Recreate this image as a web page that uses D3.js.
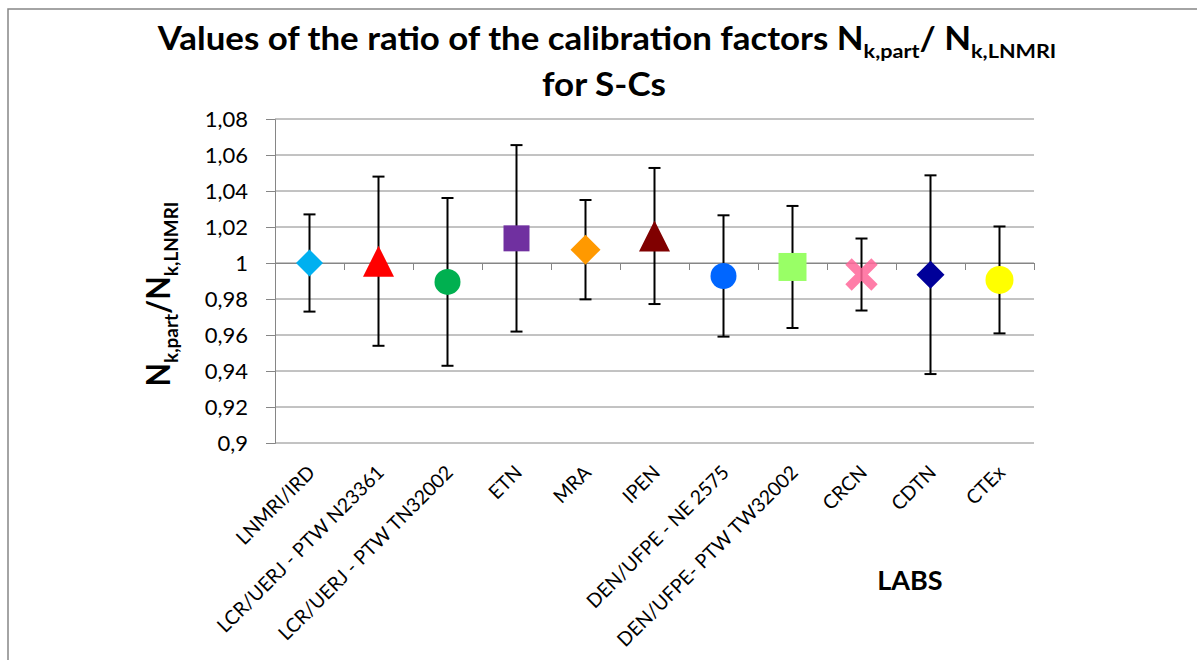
<!DOCTYPE html>
<html>
<head>
<meta charset="utf-8">
<script src="https://cdn.jsdelivr.net/npm/d3@7"></script>
<style>
  html, body { margin: 0; padding: 0; background: #fff; }
  svg { display: block; font-family: Lato, "Open Sans", sans-serif; }
</style>
</head>
<body>
<div id="app"></div>
<script>
// data
const labs = ["LNMRI/IRD", "LCR/UERJ - PTW N23361", "LCR/UERJ - PTW TN32002", "ETN", "MRA", "IPEN",
              "DEN/UFPE - NE 2575", "DEN/UFPE- PTW TW32002", "CRCN", "CDTN", "CTEx"];
const ratios = [1.000, 1.001, 0.9895, 1.0137, 1.0074, 1.015, 0.9928, 0.9978, 0.9936, 0.9935, 0.9906];
const uncert = [0.027, 0.047, 0.0466, 0.0518, 0.0276, 0.0378, 0.0337, 0.0339, 0.020, 0.0552, 0.0297];
const shapes = ["diamond", "triangle", "circle", "square", "diamond", "triangle", "circle", "square", "x", "diamond", "circle"];
const colors = ["#00B0F0", "#FF0000", "#00B050", "#7030A0", "#FF9900", "#800000", "#0066FF", "#99FF66", "#FF6699", "#000099", "#FFFF00"];
const markerSize = [27, 31, 26, 26, 30, 31, 26, 28, 32, 28, 28];
const yTicks = [0.9, 0.92, 0.94, 0.96, 0.98, 1, 1.02, 1.04, 1.06, 1.08];

const width = 1197, height = 660;
const plot = { left: 275, right: 1034, top: 119, bottom: 443 };
const gridColor = "#868686";

const svg = d3.select("#app").append("svg")
    .attr("width", width)
    .attr("height", height);

// outer frame (only top and left edges are visible in the crop)
svg.append("path")
    .attr("d", `M8,${height} L8,9 L${width},9`)
    .attr("fill", "none")
    .attr("stroke", gridColor)
    .attr("stroke-width", 1.5);

const x = d3.scaleBand().domain(labs).range([plot.left, plot.right]).padding(0);
const y = d3.scaleLinear().domain([0.9, 1.08]).range([plot.bottom, plot.top]);
// category boundaries for the tick marks on the y=1 axis
const xEdge = d3.scaleLinear().domain([0, labs.length]).range([plot.left, plot.right]);

const fmt = v => d3.format(".2~f")(v).replace(".", ",");

// gridlines
svg.append("g")
    .selectAll("line")
    .data(yTicks)
    .join("line")
    .attr("x1", plot.left).attr("x2", plot.right)
    .attr("y1", d => y(d)).attr("y2", d => y(d))
    .attr("stroke", gridColor)
    .attr("stroke-width", 1);

// y axis
const yAxis = svg.append("g")
    .attr("transform", `translate(${plot.left},0)`)
    .call(d3.axisLeft(y).tickValues(yTicks).tickSize(9).tickPadding(18).tickFormat(fmt));
yAxis.selectAll("path, line").attr("stroke", gridColor).attr("stroke-width", 1);
yAxis.selectAll("text").attr("font-size", 22).attr("font-family", "Lato").attr("fill", "#000");

// horizontal axis crosses at 1
const xAxis = svg.append("g")
    .attr("transform", `translate(0,${y(1)})`)
    .call(d3.axisBottom(xEdge).tickValues(d3.range(labs.length + 1)).tickSize(7).tickSizeOuter(0).tickFormat(""));
xAxis.selectAll("path, line").attr("stroke", gridColor).attr("stroke-width", 1);

// rotated category labels
svg.append("g")
    .selectAll("text")
    .data(labs)
    .join("text")
    .attr("transform", d => `translate(${x(d) + x.bandwidth() / 2 + 2},${469}) rotate(-45)`)
    .attr("text-anchor", "end")
    .attr("dy", "0.35em")
    .attr("font-size", 19.5)
    .attr("fill", "#000")
    .text(d => d);

const pts = labs.map((lab, i) => ({
    lab, v: ratios[i], u: uncert[i], shape: shapes[i], color: colors[i], size: markerSize[i]
}));

// error bars
const bars = svg.append("g").attr("stroke", "#000").attr("stroke-width", 2);
const cap = 6;
pts.forEach(d => {
    const cx = x(d.lab) + x.bandwidth() / 2;
    bars.append("line").attr("x1", cx).attr("x2", cx).attr("y1", y(d.v + d.u)).attr("y2", y(d.v - d.u));
    bars.append("line").attr("x1", cx - cap).attr("x2", cx + cap).attr("y1", y(d.v + d.u)).attr("y2", y(d.v + d.u));
    bars.append("line").attr("x1", cx - cap).attr("x2", cx + cap).attr("y1", y(d.v - d.u)).attr("y2", y(d.v - d.u));
});

// marker shapes, s = full width in px
function markerPath(shape, s) {
    const h = s / 2;
    if (shape === "diamond") return `M0,${-h}L${h},0L0,${h}L${-h},0Z`;
    if (shape === "square") return `M${-h},${-h}H${h}V${h}H${-h}Z`;
    if (shape === "triangle") return `M0,${-h}L${h},${h}L${-h},${h}Z`;
    if (shape === "circle") return d3.symbol(d3.symbolCircle, Math.PI * h * h)();
    return "";
}

const markers = svg.append("g");
pts.forEach(d => {
    const cx = x(d.lab) + x.bandwidth() / 2;
    const g = markers.append("g").attr("transform", `translate(${cx},${y(d.v)})`);
    if (d.shape === "x") {
        const h = d.size / 2 - 3;
        const xg = g.append("g").attr("opacity", 0.85);
        xg.append("path")
            .attr("d", `M${-h},${-h}L${h},${h}M${h},${-h}L${-h},${h}`)
            .attr("stroke", d.color)
            .attr("stroke-width", 9)
            .attr("fill", "none");
    } else {
        g.append("path").attr("d", markerPath(d.shape, d.size)).attr("fill", d.color);
    }
});

// text with subscript parts
function addSubText(sel, parts, size) {
    parts.forEach(p => {
        if (p.sub) {
            sel.append("tspan").attr("font-size", size * 0.62).attr("dy", size * 0.26).text(p.t);
        } else {
            sel.append("tspan").attr("dy", p.back ? -size * 0.26 : 0).text(p.t);
        }
    });
}

// squeeze/stretch a text horizontally so it spans the target width (Calibri is narrower than Lato)
function fitX(text, target, prefix) {
    const w = text.node().getComputedTextLength();
    text.attr("transform", `${prefix} scale(${target / w},1)`);
}

const title1 = svg.append("text")
    .attr("text-anchor", "middle")
    .attr("font-weight", "bold")
    .attr("font-size", 32);
addSubText(title1, [
    { t: "Values of the ratio of the calibration factors N" },
    { t: "k,part", sub: true },
    { t: "/ N", back: true },
    { t: "k,LNMRI", sub: true }
], 32);
fitX(title1, 899, "translate(607,50)");

const title2 = svg.append("text")
    .attr("text-anchor", "middle")
    .attr("font-weight", "bold")
    .attr("font-size", 32)
    .text("for S-Cs");
fitX(title2, 124, "translate(604,96)");

// y axis title
const yTitle = svg.append("text")
    .attr("text-anchor", "middle")
    .attr("font-weight", "bold")
    .attr("font-size", 32);
addSubText(yTitle, [
    { t: "N" },
    { t: "k,part", sub: true },
    { t: "/N", back: true },
    { t: "k,LNMRI", sub: true }
], 32);
fitX(yTitle, 185, "translate(170,294) rotate(-90)");

// x axis title
svg.append("text")
    .attr("x", 910).attr("y", 590)
    .attr("text-anchor", "middle")
    .attr("font-weight", "bold")
    .attr("font-size", 27)
    .text("LABS");
</script>
</body>
</html>
